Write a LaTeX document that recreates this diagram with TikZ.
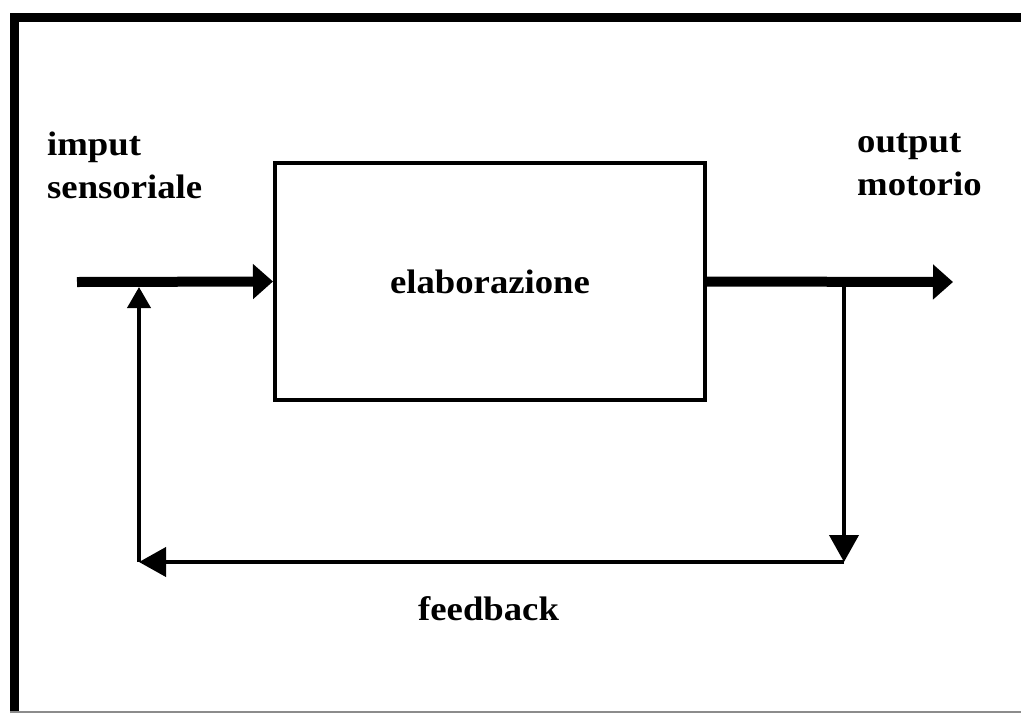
\documentclass[tikz,border=0pt]{standalone}
\usepackage{fontspec}
\setmainfont{Liberation Serif}[FakeStretch=1.08]
\usetikzlibrary{arrows.meta}
\begin{document}
\begin{tikzpicture}[x=1pt,y=-1pt,
  lbl/.style={inner sep=0pt, align=left, font=\bfseries\fontsize{34}{43}\selectfont},
  mainflow/.style={line width=10pt, -{Triangle[length=20pt,width=34pt]}},
  fbflow/.style={line width=4pt, -{Triangle[length=27pt,width=29pt]}},
  fbup/.style={line width=4pt, -{Triangle[length=21pt,width=23pt]}},
  procbox/.style={draw, line width=4pt, minimum width=430pt, minimum height=237pt,
    inner sep=0pt, font=\bfseries\fontsize{34}{43}\selectfont}]
\useasboundingbox (0,0) rectangle (1021,713);
\fill[white] (0,0) rectangle (1021,713);
% frame
\draw[line width=9pt, line join=miter] (14.5,713) -- (14.5,17) -- (1021,17);
\draw[black!45, line width=1.5pt] (10,712) -- (1021,712);

% processing block
\node[procbox] (elab) at (490,281.5) {elaborazione};

% points of the loop
\coordinate (in) at (77,282);
\coordinate (out) at (953,282);
\coordinate (split) at (844,282);
\coordinate (fbR) at (844,562);
\coordinate (fbL) at (139,562);
\coordinate (fbT) at (139,287);

% forward path
\draw[mainflow] (in) -- (elab.west);
\draw[mainflow] (elab.east) -- (out);

% feedback loop
\draw[fbflow] (split) -- (fbR);
\draw[fbflow] (fbR) -- (fbL);
\draw[fbup] (fbL) -- (fbT);

% labels (base anchor sits on the last line)
\node[lbl, anchor=base west] (inlbl) at (47,198) {imput\\sensoriale};
\node[lbl, anchor=base west] (outlbl) at (857,195) {output\\motorio};
\node[lbl, anchor=base west] (fblbl) at (418,620) {feedback};
\end{tikzpicture}
\end{document}
